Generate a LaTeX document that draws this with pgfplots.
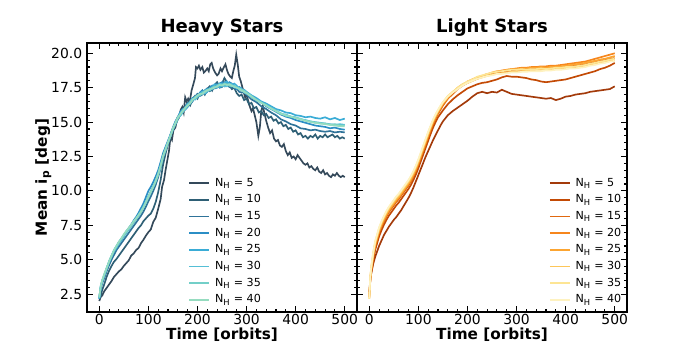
\documentclass[border=0pt]{standalone}
\usepackage{fontspec}
\setmainfont{DejaVu Sans}
\usepackage{pgfplots}
\pgfplotsset{compat=1.18}
\usepackage{pgfplotstable}

% heavy stars
\definecolor{h5}{HTML}{34495A}
\definecolor{h10}{HTML}{2E5F75}
\definecolor{h15}{HTML}{2F7399}
\definecolor{h20}{HTML}{2B8EC5}
\definecolor{h25}{HTML}{3AACD6}
\definecolor{h30}{HTML}{55BFD6}
\definecolor{h35}{HTML}{73CFC8}
\definecolor{h40}{HTML}{96DCC0}
% light stars
\definecolor{l5}{HTML}{A33A0A}
\definecolor{l10}{HTML}{C34A05}
\definecolor{l15}{HTML}{E0680F}
\definecolor{l20}{HTML}{F6861C}
\definecolor{l25}{HTML}{FCA531}
\definecolor{l30}{HTML}{FDC659}
\definecolor{l35}{HTML}{FDE594}
\definecolor{l40}{HTML}{FEF2C0}

\pgfplotstableread{
t n5
0 2.00
3 2.30
6 2.40
10 2.70
15 2.95
20 3.20
25 3.45
30 3.75
35 3.95
40 4.15
45 4.30
50 4.55
55 4.75
60 4.95
65 5.30
70 5.45
75 5.70
80 5.85
85 6.20
90 6.45
95 6.75
100 7.00
105 7.20
110 7.75
115 8.05
120 8.70
125 9.40
128 10.30
132 10.80
135 11.50
138 12.10
142 12.90
145 13.90
148 13.70
151 14.40
155 14.60
158 15.10
162 15.30
166 15.90
169 16.10
172 15.70
175 16.80
178 16.50
181 16.70
184 16.40
188 17.30
192 17.80
195 18.20
197 19.00
200 18.90
203 19.10
206 18.80
210 19.00
213 18.60
216 18.70
220 18.90
223 18.70
226 19.20
229 19.30
232 18.90
236 18.60
240 18.40
243 18.50
247 18.90
250 18.70
254 19.00
257 19.20
260 18.80
263 18.50
267 18.30
270 18.20
273 18.70
276 19.10
279 19.90
282 19.20
285 18.30
288 18.00
291 17.60
294 17.20
297 16.80
300 17.00
303 16.60
306 16.20
310 15.80
313 16.00
316 15.60
320 15.00
324 14.00
327 14.60
330 15.80
333 16.20
336 15.70
340 15.10
344 14.60
348 14.20
352 14.40
356 13.80
360 13.60
364 13.70
368 13.30
372 13.20
376 13.40
380 12.90
384 12.60
388 12.80
392 12.40
396 12.50
400 12.30
404 12.60
408 12.40
412 12.20
416 12.00
420 11.90
424 12.00
428 11.70
432 11.80
436 11.60
440 11.50
444 11.70
448 11.40
452 11.30
456 11.50
460 11.20
464 11.30
468 11.10
472 11.00
476 11.20
480 11.10
484 11.30
488 11.10
492 11.00
496 11.10
500 11.00
}\heavyfive

\pgfplotstableread{
t n10
0 2.20
3 2.40
6 2.80
10 3.20
15 3.75
20 4.20
25 4.55
30 4.85
35 5.05
40 5.30
45 5.55
50 5.80
55 6.05
60 6.30
65 6.55
70 6.80
75 7.05
80 7.30
85 7.50
90 7.80
95 8.00
100 8.20
105 8.35
110 8.70
115 9.20
120 9.90
125 10.80
130 11.90
135 12.70
140 13.40
145 14.00
150 14.50
155 14.80
160 15.20
165 15.60
170 15.90
175 16.10
180 16.40
185 16.20
190 16.70
195 16.90
200 16.70
205 17.10
210 17.30
215 17.00
220 17.40
225 17.60
230 17.30
235 17.70
240 17.90
245 17.60
250 17.80
255 18.20
260 17.90
265 17.70
270 17.40
275 17.50
280 17.10
285 16.90
290 17.00
295 16.60
300 16.70
305 16.30
310 16.40
315 16.00
320 16.10
325 15.70
330 15.80
335 15.50
340 15.60
345 15.30
350 15.40
355 15.10
360 15.20
365 14.90
370 15.00
375 14.70
380 14.80
385 14.50
390 14.60
395 14.30
400 14.40
405 14.10
410 14.20
415 13.90
420 14.00
425 13.80
430 14.00
435 13.90
440 14.10
445 13.80
450 14.00
455 13.90
460 14.10
465 13.90
470 14.00
475 14.10
480 13.90
485 14.00
490 13.80
495 13.90
500 13.80
}\heavyten

\pgfplotstableread{
t n15 n20 n25 n30 n35 n40
0 2.20 2.15 2.25 2.20 2.30 2.25
3 2.90 3.05 3.00 3.10 3.05 3.10
6 3.30 3.45 3.40 3.50 3.45 3.50
10 3.65 3.85 3.80 3.90 3.85 3.95
15 4.15 4.35 4.30 4.40 4.35 4.40
20 4.60 4.85 4.80 4.85 4.90 4.85
25 5.00 5.25 5.20 5.30 5.25 5.30
30 5.35 5.65 5.60 5.70 5.65 5.70
35 5.70 5.95 5.85 6.00 5.95 6.00
40 5.95 6.25 6.20 6.30 6.25 6.30
45 6.20 6.50 6.40 6.55 6.50 6.55
50 6.45 6.75 6.70 6.80 6.75 6.85
55 6.70 7.05 6.95 7.05 7.00 7.10
60 6.95 7.30 7.20 7.25 7.25 7.30
65 7.20 7.55 7.45 7.50 7.45 7.55
70 7.45 7.85 7.70 7.75 7.70 7.80
75 7.70 8.10 7.95 8.00 7.95 8.00
80 7.95 8.40 8.20 8.25 8.20 8.25
85 8.20 8.75 8.50 8.55 8.45 8.50
90 8.50 9.10 8.80 8.85 8.80 8.80
95 8.85 9.55 9.20 9.20 9.15 9.20
100 9.25 10.00 9.60 9.60 9.55 9.55
105 9.60 10.30 9.95 9.95 9.90 9.95
110 10.00 10.65 10.35 10.30 10.30 10.30
115 10.45 11.05 10.75 10.70 10.70 10.75
120 11.00 11.50 11.25 11.20 11.15 11.25
125 11.65 12.10 11.85 11.80 11.75 11.85
130 12.35 12.75 12.50 12.50 12.45 12.55
135 12.95 13.20 13.05 13.00 12.95 13.05
140 13.50 13.65 13.55 13.45 13.50 13.55
145 14.05 14.10 14.00 13.95 14.05 14.00
150 14.55 14.60 14.45 14.45 14.50 14.55
155 14.95 15.05 14.85 14.90 14.85 14.95
160 15.40 15.35 15.25 15.30 15.25 15.35
165 15.50 15.75 15.65 15.45 15.60 15.55
170 15.75 15.95 15.90 15.70 15.85 15.80
175 16.15 15.90 16.05 16.00 15.95 16.05
180 16.30 16.10 16.35 16.15 16.25 16.20
185 16.30 16.50 16.35 16.50 16.40 16.35
190 16.50 16.75 16.55 16.70 16.60 16.65
195 16.85 16.65 16.85 16.65 16.80 16.75
200 17.05 16.85 16.95 16.80 16.90 16.95
205 16.90 17.15 16.95 17.05 16.95 17.05
210 17.00 17.30 17.05 17.20 17.10 17.05
215 17.30 17.05 17.30 17.10 17.25 17.20
220 17.45 17.20 17.40 17.25 17.35 17.30
225 17.25 17.50 17.35 17.45 17.30 17.40
230 17.35 17.65 17.55 17.40 17.50 17.45
235 17.65 17.45 17.75 17.55 17.60 17.50
240 17.80 17.50 17.70 17.65 17.55 17.60
245 17.50 17.80 17.55 17.80 17.70 17.70
250 17.55 17.90 17.60 17.75 17.70 17.65
255 17.90 17.60 17.85 17.60 17.80 17.75
260 17.85 17.65 17.95 17.60 17.75 17.70
265 17.55 17.90 17.65 17.80 17.65 17.75
270 17.50 17.80 17.70 17.75 17.60 17.65
275 17.60 17.50 17.80 17.55 17.65 17.55
280 17.45 17.40 17.65 17.55 17.50 17.50
285 17.20 17.55 17.40 17.50 17.45 17.40
290 17.15 17.45 17.30 17.40 17.35 17.30
295 17.20 17.15 17.35 17.15 17.30 17.20
300 17.00 17.05 17.20 17.10 17.15 17.10
310 16.65 16.90 16.95 16.80 16.90 16.85
320 16.45 16.55 16.75 16.65 16.60 16.60
330 16.15 16.45 16.50 16.45 16.40 16.40
340 15.95 16.15 16.35 16.20 16.25 16.20
350 15.70 15.95 16.15 16.05 15.95 16.00
360 15.50 15.75 15.95 15.85 15.80 15.80
370 15.20 15.55 15.85 15.60 15.65 15.60
380 15.05 15.40 15.70 15.55 15.45 15.50
390 14.85 15.30 15.65 15.40 15.40 15.40
400 14.75 15.15 15.50 15.35 15.30 15.30
410 14.55 15.05 15.45 15.20 15.25 15.20
420 14.50 14.95 15.35 15.15 15.10 15.10
430 14.40 14.85 15.40 15.05 15.05 15.00
440 14.45 14.75 15.30 15.00 14.95 14.95
450 14.35 14.70 15.25 14.95 14.90 14.90
460 14.30 14.65 15.35 14.90 14.90 14.85
470 14.35 14.55 15.20 14.85 14.80 14.80
480 14.25 14.60 15.30 14.80 14.85 14.75
490 14.30 14.50 15.15 14.85 14.75 14.70
500 14.25 14.45 15.25 14.80 14.75 14.70
}\heavy

\pgfplotstableread{
t n5 n10 n15 n20 n25 n30 n35 n40
0 2.50 2.40 2.30 2.25 2.20 2.20 2.15 2.20
2 3.60 3.50 3.45 3.55 3.60 3.65 3.70 3.75
4 4.00 4.05 4.15 4.25 4.30 4.40 4.45 4.50
8 4.70 4.95 5.15 5.25 5.30 5.40 5.50 5.55
12 5.20 5.70 5.95 6.05 6.10 6.20 6.30 6.35
16 5.60 6.20 6.45 6.55 6.60 6.70 6.80 6.85
20 6.00 6.70 6.95 7.05 7.10 7.20 7.30 7.35
25 6.40 7.15 7.40 7.50 7.55 7.65 7.75 7.80
30 6.80 7.55 7.80 7.90 7.95 8.05 8.15 8.20
35 7.10 7.90 8.15 8.25 8.30 8.40 8.50 8.55
40 7.40 8.20 8.45 8.55 8.60 8.70 8.80 8.85
45 7.65 8.45 8.70 8.80 8.85 8.95 9.05 9.10
50 7.90 8.70 8.95 9.05 9.10 9.20 9.30 9.35
55 8.10 8.95 9.20 9.30 9.35 9.45 9.55 9.60
60 8.35 9.15 9.40 9.50 9.55 9.65 9.75 9.80
65 8.60 9.40 9.65 9.75 9.80 9.90 10.00 10.05
70 8.90 9.65 9.90 10.00 10.05 10.15 10.25 10.30
75 9.20 9.90 10.15 10.25 10.30 10.40 10.50 10.55
80 9.50 10.15 10.40 10.50 10.55 10.65 10.75 10.80
85 9.85 10.45 10.70 10.80 10.85 10.95 11.05 11.10
90 10.25 10.80 11.05 11.15 11.20 11.30 11.40 11.45
95 10.70 11.20 11.45 11.55 11.60 11.70 11.80 11.85
100 11.15 11.65 11.90 12.00 12.05 12.15 12.25 12.30
105 11.60 12.15 12.40 12.50 12.55 12.65 12.75 12.80
110 12.05 12.65 12.90 13.00 13.05 13.15 13.25 13.30
115 12.50 13.15 13.40 13.50 13.55 13.65 13.75 13.80
120 12.90 13.65 13.90 14.00 14.05 14.15 14.25 14.30
125 13.30 14.15 14.40 14.50 14.55 14.65 14.70 14.75
130 13.70 14.60 14.85 14.95 15.00 15.10 15.15 15.20
135 14.05 15.00 15.25 15.35 15.40 15.45 15.55 15.55
140 14.40 15.35 15.60 15.70 15.75 15.80 15.85 15.90
145 14.75 15.60 15.90 16.00 16.05 16.10 16.15 16.20
150 15.05 15.85 16.20 16.30 16.35 16.40 16.45 16.45
160 15.50 16.30 16.70 16.75 16.80 16.85 16.90 16.85
170 15.80 16.65 17.05 17.15 17.15 17.20 17.20 17.15
180 16.05 16.95 17.40 17.45 17.50 17.45 17.50 17.40
190 16.30 17.20 17.65 17.70 17.75 17.70 17.75 17.65
200 16.55 17.45 17.85 17.95 17.90 17.85 17.95 17.85
210 16.85 17.60 18.00 18.10 18.10 18.00 18.10 18.00
220 17.10 17.75 18.15 18.25 18.25 18.15 18.30 18.15
230 17.20 17.85 18.30 18.35 18.35 18.25 18.40 18.25
240 17.10 17.90 18.40 18.50 18.45 18.35 18.50 18.35
250 17.20 18.00 18.50 18.55 18.60 18.45 18.60 18.40
260 17.15 18.10 18.60 18.65 18.70 18.50 18.65 18.50
270 17.35 18.25 18.65 18.75 18.70 18.55 18.70 18.50
280 17.20 18.35 18.70 18.80 18.80 18.60 18.75 18.55
290 17.05 18.30 18.75 18.85 18.85 18.65 18.80 18.60
300 17.00 18.30 18.80 18.90 18.85 18.70 18.80 18.60
310 16.95 18.25 18.80 18.95 18.90 18.70 18.85 18.65
320 16.90 18.20 18.85 18.95 18.90 18.75 18.80 18.65
330 16.85 18.10 18.85 19.00 18.95 18.75 18.85 18.70
340 16.80 18.05 18.90 19.00 18.95 18.80 18.85 18.70
350 16.75 17.95 18.90 19.05 19.00 18.80 18.90 18.70
360 16.70 17.90 18.90 19.05 18.95 18.80 18.85 18.75
370 16.75 17.95 18.95 19.10 19.00 18.85 18.90 18.75
380 16.60 18.00 18.95 19.10 19.05 18.85 18.95 18.80
390 16.70 18.05 19.00 19.15 19.05 18.90 18.95 18.80
400 16.85 18.10 19.00 19.20 19.10 18.90 19.00 18.85
410 16.90 18.20 19.05 19.25 19.15 18.95 19.00 18.90
420 17.00 18.30 19.10 19.30 19.20 19.00 19.05 18.90
430 17.05 18.40 19.15 19.35 19.25 19.05 19.10 18.95
440 17.10 18.50 19.20 19.40 19.30 19.10 19.15 19.00
450 17.20 18.60 19.30 19.50 19.40 19.20 19.25 19.10
460 17.25 18.70 19.35 19.60 19.45 19.25 19.30 19.15
470 17.30 18.85 19.45 19.70 19.55 19.30 19.40 19.25
480 17.35 18.95 19.50 19.80 19.60 19.35 19.45 19.30
490 17.40 19.10 19.60 19.90 19.70 19.45 19.55 19.40
500 17.60 19.30 19.65 20.00 19.80 19.50 19.60 19.45
}\light

\pgfplotsset{
  panel/.style={
    scale only axis, width=194.4pt, height=193.7pt,
    xmin=-25, xmax=525, ymin=1.2, ymax=20.75,
    xtick={0,100,...,500}, minor x tick num=4,
    ytick={2.5,5,...,20}, minor y tick num=4,
    tick align=inside, xtick pos=both, ytick pos=both,
    major tick length=4pt, minor tick length=2.2pt,
    every tick/.style={black, line width=0.8pt},
    axis line style={line width=1.2pt, black},
    tick label style={font=\fontsize{10}{12}\selectfont},
    xticklabel style={yshift=2pt},
    /pgf/number format/assume math mode=true,
    yticklabel style={/pgf/number format/.cd, fixed, fixed zerofill, precision=1},
    xlabel={Time [orbits]},
    label style={font=\fontsize{11}{13}\selectfont\bfseries},
    xlabel style={yshift=4.5pt},
    ylabel style={yshift=-7pt},
    title style={font=\fontsize{13}{15}\selectfont\bfseries, yshift=-5pt},
    legend style={draw=none, fill=none, font=\fontsize{8}{9}\selectfont,
      inner sep=0pt, row sep=2.5pt,
      nodes={inner sep=1pt, text height=6pt, text depth=1.5pt},
      /tikz/every odd column/.append style={column sep=2.5pt}},
    legend cell align=left,
    legend image code/.code={\draw[#1, line width=1.2pt] (0pt,0pt) -- (14.4pt,0pt);},
    every axis plot/.append style={line width=1.2pt, mark=none},
  }
}

\begin{document}
\begin{tikzpicture}
\path[use as bounding box] (0,0) rectangle (504pt,252pt);

\begin{axis}[panel, at={(62.64pt,27.36pt)}, anchor=south west,
  title={Heavy Stars},
  ylabel={Mean i\textsubscript{p} [deg]},
  legend style={at={(0.375,0.505)}, anchor=north west}]
\addplot[h5] table[x=t, y=n5] {\heavyfive};
\addlegendentry{N\textsubscript{H} = 5}
\addplot[h10] table[x=t, y=n10] {\heavyten};
\addlegendentry{N\textsubscript{H} = 10}
\addplot[h15] table[x=t, y=n15] {\heavy};
\addlegendentry{N\textsubscript{H} = 15}
\addplot[h20] table[x=t, y=n20] {\heavy};
\addlegendentry{N\textsubscript{H} = 20}
\addplot[h25] table[x=t, y=n25] {\heavy};
\addlegendentry{N\textsubscript{H} = 25}
\addplot[h30] table[x=t, y=n30] {\heavy};
\addlegendentry{N\textsubscript{H} = 30}
\addplot[h35] table[x=t, y=n35] {\heavy};
\addlegendentry{N\textsubscript{H} = 35}
\addplot[h40] table[x=t, y=n40] {\heavy};
\addlegendentry{N\textsubscript{H} = 40}
\end{axis}

\begin{axis}[panel, at={(257.04pt,27.36pt)}, anchor=south west,
  title={Light Stars},
  yticklabels={},
  legend style={at={(0.71,0.505)}, anchor=north west}]
\addplot[l5] table[x=t, y=n5] {\light};
\addlegendentry{N\textsubscript{H} = 5}
\addplot[l10] table[x=t, y=n10] {\light};
\addlegendentry{N\textsubscript{H} = 10}
\addplot[l15] table[x=t, y=n15] {\light};
\addlegendentry{N\textsubscript{H} = 15}
\addplot[l20] table[x=t, y=n20] {\light};
\addlegendentry{N\textsubscript{H} = 20}
\addplot[l25] table[x=t, y=n25] {\light};
\addlegendentry{N\textsubscript{H} = 25}
\addplot[l30] table[x=t, y=n30] {\light};
\addlegendentry{N\textsubscript{H} = 30}
\addplot[l35] table[x=t, y=n35] {\light};
\addlegendentry{N\textsubscript{H} = 35}
\addplot[l40] table[x=t, y=n40] {\light};
\addlegendentry{N\textsubscript{H} = 40}
\end{axis}
\end{tikzpicture}
\end{document}
